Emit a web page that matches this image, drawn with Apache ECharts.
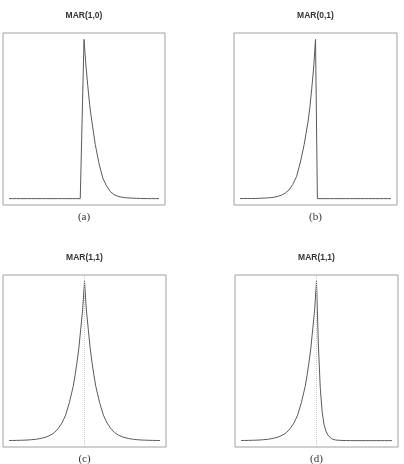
<!DOCTYPE html>
<html>
<head>
<meta charset="utf-8">
<script src="https://cdn.jsdelivr.net/npm/echarts@6/dist/echarts.min.js"></script>
<style>
  html, body { margin: 0; padding: 0; background: #fff; }
  #chart { width: 404px; height: 464px; }
</style>
</head>
<body>
<div id="chart"></div>
<script>
// lag positions (shared by the four panels)
const lags = [-20, -19, -18, -17, -16, -15, -14, -13, -12, -11, -10, -9, -8, -7, -6, -5, -4,
  -3, -2.5, -2, -1.5, -1, -0.5, 0, 0.5, 1, 1.5, 2, 2.5, 3,
  4, 5, 6, 7, 8, 9, 10, 11, 12, 13, 14, 15, 16, 17, 18, 19, 20];

// MAR(1,0): one-sided decay to the right
const mar10 = [0, 0, 0, 0, 0, 0, 0, 0, 0, 0, 0, 0, 0, 0, 0, 0, 0,
  0, 0, 0, 0, 0, 0, 1, 0.84, 0.71, 0.59, 0.5, 0.42, 0.34,
  0.22, 0.13, 0.08, 0.045, 0.025, 0.015, 0.009, 0.006, 0.004, 0.003, 0.002, 0.001, 0.001, 0, 0, 0, 0];

// MAR(0,1): one-sided rise from the left
const mar01 = [0, 0.001, 0.001, 0.001, 0.001, 0.002, 0.003, 0.004, 0.006, 0.009, 0.014, 0.022, 0.035, 0.055, 0.09, 0.14, 0.23,
  0.34, 0.41, 0.48, 0.57, 0.69, 0.82, 1, 0, 0, 0, 0, 0, 0,
  0, 0, 0, 0, 0, 0, 0, 0, 0, 0, 0, 0, 0, 0, 0, 0, 0];

// MAR(1,1) symmetric
const mar11c = [0.001, 0.001, 0.0015, 0.002, 0.003, 0.004, 0.006, 0.008, 0.012, 0.017, 0.024, 0.035, 0.05, 0.075, 0.11, 0.16, 0.24,
  0.34, 0.41, 0.49, 0.58, 0.7, 0.82, 1, 0.82, 0.7, 0.58, 0.49, 0.41, 0.34,
  0.24, 0.16, 0.11, 0.075, 0.05, 0.035, 0.024, 0.017, 0.012, 0.008, 0.006, 0.004, 0.003, 0.002, 0.0015, 0.001, 0.001];

// MAR(1,1) with a fast right side
const mar11d = [0.001, 0.001, 0.0015, 0.002, 0.003, 0.004, 0.006, 0.008, 0.012, 0.017, 0.024, 0.035, 0.05, 0.075, 0.11, 0.16, 0.24,
  0.34, 0.41, 0.49, 0.58, 0.7, 0.82, 1, 0.6, 0.33, 0.18, 0.1, 0.06, 0.035,
  0.012, 0.004, 0.002, 0.001, 0.001, 0, 0, 0, 0, 0, 0, 0, 0, 0, 0, 0, 0];

const titles = ["MAR(1,0)", "MAR(0,1)", "MAR(1,1)", "MAR(1,1)"];
const captions = ["(a)", "(b)", "(c)", "(d)"];
const panels = [mar10, mar01, mar11c, mar11d];

// panel boxes: left, top, width, height
const boxes = [
  [3, 33, 162, 172],
  [234, 33, 163, 172],
  [3, 275, 163, 172],
  [235, 275, 163, 172]
];

const grids = [];
const xAxes = [];
const yAxes = [];
const series = [];
const titleArr = [];

boxes.forEach(function (b, i) {
  grids.push({
    left: b[0], top: b[1], width: b[2], height: b[3],
    show: true,
    borderColor: "#a0a0a0",
    borderWidth: 1,
    backgroundColor: "transparent"
  });
  xAxes.push({
    type: "value", gridIndex: i, min: -21.6, max: 21.6,
    axisLine: { show: false }, axisTick: { show: false },
    axisLabel: { show: false }, splitLine: { show: false }
  });
  yAxes.push({
    type: "value", gridIndex: i, min: -0.04, max: 1.04,
    axisLine: { show: false }, axisTick: { show: false },
    axisLabel: { show: false }, splitLine: { show: false }
  });

  const s = {
    type: "line",
    xAxisIndex: i,
    yAxisIndex: i,
    data: lags.map(function (x, k) { return [x, panels[i][k]]; }),
    showSymbol: false,
    lineStyle: { color: "#5a5a5a", width: 1 },
    silent: true,
    z: 3
  };
  if (i >= 2) {
    s.markLine = {
      silent: true,
      symbol: ["none", "none"],
      label: { show: false },
      lineStyle: { color: "#c8c8c8", type: "dotted", width: 1 },
      data: [{ xAxis: 0 }]
    };
  }
  series.push(s);

  const cx = b[0] + b[2] / 2;
  titleArr.push({
    text: titles[i],
    left: cx,
    top: b[1] - 22,
    padding: 0,
    textAlign: "center",
    textStyle: { fontSize: 8.5, fontWeight: "bold", color: "#333", fontFamily: "'Liberation Sans', Arial, sans-serif" }
  });
  titleArr.push({
    text: captions[i],
    left: cx,
    top: b[1] + b[3] + 7,
    padding: 0,
    textAlign: "center",
    textStyle: { fontSize: 11, fontWeight: "normal", color: "#333", fontFamily: "'Liberation Serif', serif" }
  });
});

const option = {
  animation: false,
  backgroundColor: "#fff",
  title: titleArr,
  grid: grids,
  xAxis: xAxes,
  yAxis: yAxes,
  series: series
};

const myChart = echarts.init(document.getElementById("chart"));
myChart.setOption(option);
</script>
</body>
</html>
